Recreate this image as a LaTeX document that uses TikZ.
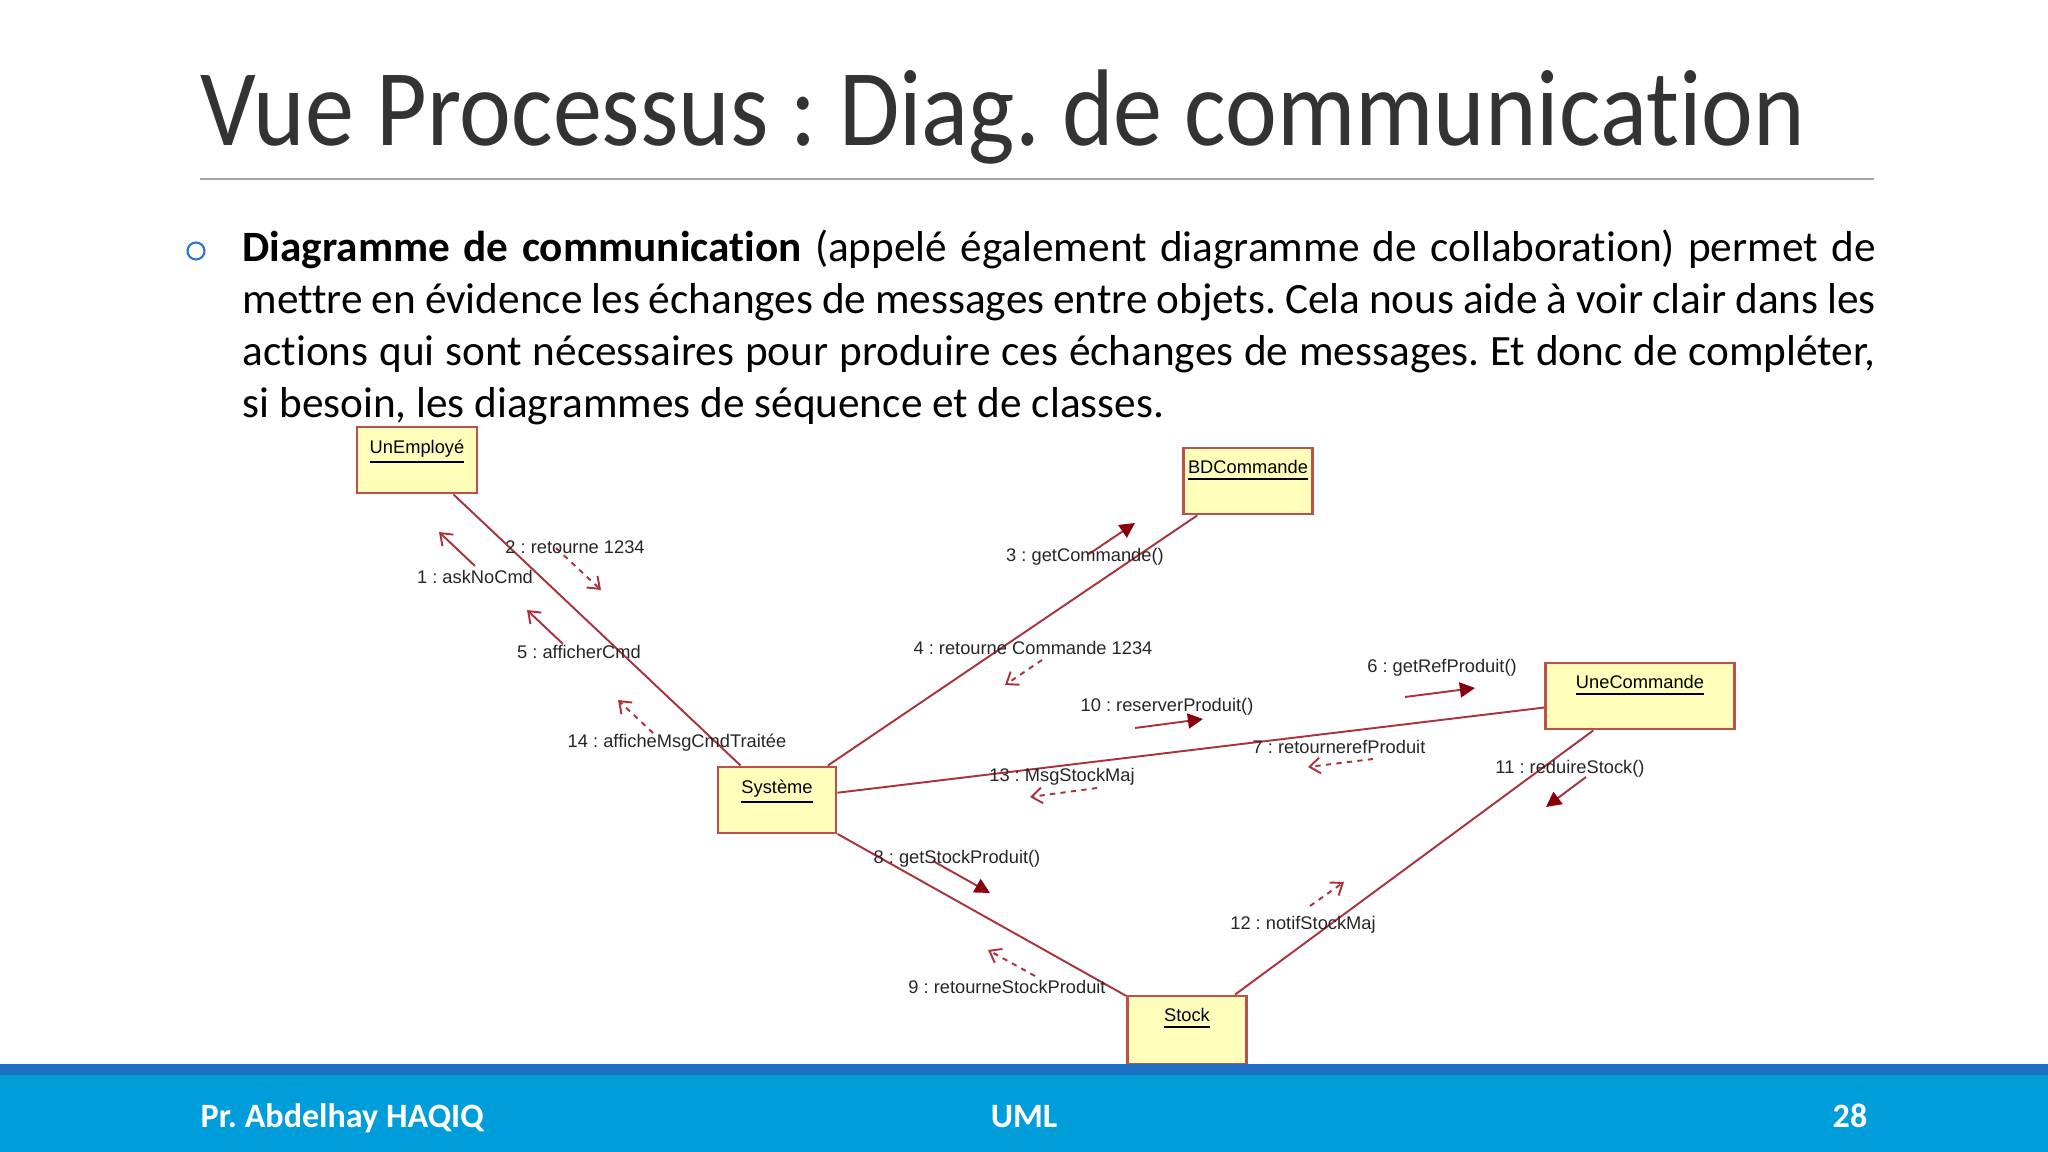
\documentclass[tikz,border=0pt]{standalone}
\usepackage{fontspec}
\setmainfont{Carlito}[Ligatures=NoCommon]
\newfontfamily\titlefont{Carlito}[Ligatures=NoCommon, FakeStretch=0.9]
\newfontfamily\umlfont{Liberation Sans}
\usetikzlibrary{arrows.meta}
\definecolor{linkred}{RGB}{170,50,60}
\definecolor{headred}{RGB}{135,0,10}
\definecolor{boxfill}{RGB}{255,255,187}
\definecolor{boxline}{RGB}{190,80,75}
\definecolor{bulletblue}{RGB}{40,120,200}
\definecolor{bardark}{RGB}{31,111,197}
\definecolor{barlight}{RGB}{0,157,219}
\definecolor{rulegrey}{RGB}{166,166,166}
\frenchspacing

\begin{document}
\begin{tikzpicture}[
    x=0.01cm, y=-0.01cm,
    objbox/.style={rectangle, draw=boxline, fill=boxfill, line width=0.8pt, minimum height=0.66cm},
    objname/.style={anchor=north, yshift=-1.8pt, inner sep=2pt, font=\umlfont\fontsize{5.2}{6}\selectfont},
    link/.style={draw=linkred, line width=0.55pt},
    msglabel/.style={inner sep=0pt, font=\umlfont\fontsize{5.2}{6}\selectfont, text=black!85},
    call/.style={linkred, line width=0.55pt, -{Triangle[length=4.3pt,width=4.3pt,color=headred]}},
    send/.style={linkred, line width=0.55pt, -{Straight Barb[length=3pt,width=4.5pt]}},
    reply/.style={send, dash pattern=on 1.5pt off 1.5pt},
    footer/.style={inner sep=0pt, text=white, font=\bfseries\fontsize{9.7}{11}\selectfont}
]
\useasboundingbox (0,0) rectangle (2048,1152);

% Titre
\node[anchor=base west, inner sep=0pt, font=\titlefont\fontsize{31}{36}\selectfont, text=black!80] at (200,146) (titre) {Vue Processus : Diag. de communication};
\draw[rulegrey, line width=0.6pt] (200,179) -- (1874,179);

% Texte
\draw[bulletblue, line width=0.6pt] (196,251) circle (8.5);
\node[anchor=base west, inner sep=0pt, font=\fontsize{12.3}{14.7}\selectfont] at (242,262) (texte) {\parbox[t]{16.32cm}{%
\makebox[16.32cm][s]{\textbf{Diagramme de communication} (appelé également diagramme de collaboration) permet de}\\
\makebox[16.32cm][s]{mettre en évidence les échanges de messages entre objets. Cela nous aide à voir clair dans les}\\
\makebox[16.32cm][s]{actions qui sont nécessaires pour produire ces échanges de messages. Et donc de compléter,}\\
si besoin, les diagrammes de séquence et de classes.}};

% Objets
\node[objbox, minimum width=1.20cm, label={[objname]north:\underline{UnEmployé}}] at (417,460) (emp) {};
\node[objbox, minimum width=1.29cm, label={[objname]north:\underline{BDCommande}}] at (1248,481) (bdc) {};
\node[objbox, minimum width=1.89cm, label={[objname]north:\underline{UneCommande}}] at (1640,696) (unec) {};
\node[objbox, minimum width=1.18cm, label={[objname]north:\underline{Système}}] at (777,800) (sys) {};
\node[objbox, minimum width=1.19cm, minimum height=0.68cm, label={[objname]north:\underline{Stock}}] at (1187,1030) (stock) {};

% Liens
\draw[link] (emp) -- (sys);
\draw[link] (sys) -- (bdc);
\draw[link] (sys) -- (unec);
\draw[link] (sys) -- (stock);
\draw[link] (stock) -- (unec);

% Messages UnEmploye - Systeme
\coordinate (m1a) at (475,566); \coordinate (m1b) at (439,532);
\coordinate (m2a) at (556,548); \coordinate (m2b) at (601,590);
\coordinate (m5a) at (563,644); \coordinate (m5b) at (527,610);
\coordinate (m14a) at (653,733); \coordinate (m14b) at (618,700);
\draw[send] (m1a) -- (m1b);
\draw[reply] (m2a) -- (m2b);
\draw[send] (m5a) -- (m5b);
\draw[reply] (m14a) -- (m14b);
\node[msglabel] at (475,577) (l1) {1 : askNoCmd};
\node[msglabel] at (575,547) (l2) {2 : retourne 1234};
\node[msglabel] at (579,652) (l5) {5 : afficherCmd};
\node[msglabel] at (677,743) (l14) {14 : afficheMsgCmdTraitée};

% Messages Systeme - BDCommande
\coordinate (m3a) at (1089,554); \coordinate (m3b) at (1135,523);
\coordinate (m4a) at (1042,660); \coordinate (m4b) at (1005,685);
\draw[call] (m3a) -- (m3b);
\draw[reply] (m4a) -- (m4b);
\node[msglabel] at (1085,557) (l3) {3 : getCommande()};
\node[msglabel] at (1033,648) (l4) {4 : retourne Commande 1234};

% Messages Systeme - UneCommande
\coordinate (m6a) at (1405,697); \coordinate (m6b) at (1475,688);
\coordinate (m7a) at (1373,759); \coordinate (m7b) at (1308,767);
\coordinate (m10a) at (1135,728); \coordinate (m10b) at (1203,719);
\coordinate (m13a) at (1097,788); \coordinate (m13b) at (1030,797);
\draw[call] (m6a) -- (m6b);
\draw[reply] (m7a) -- (m7b);
\draw[call] (m10a) -- (m10b);
\draw[reply] (m13a) -- (m13b);
\node[msglabel] at (1442,668) (l6) {6 : getRefProduit()};
\node[msglabel] at (1339,747) (l7) {7 : retournerefProduit};
\node[msglabel] at (1167,707) (l10) {10 : reserverProduit()};
\node[msglabel] at (1062,777) (l13) {13 : MsgStockMaj};

% Messages Systeme - Stock
\coordinate (m8a) at (933,861); \coordinate (m8b) at (990,893);
\coordinate (m9a) at (1035,976); \coordinate (m9b) at (988,950);
\draw[call] (m8a) -- (m8b);
\draw[reply] (m9a) -- (m9b);
\node[msglabel] at (957,859) (l8) {8 : getStockProduit()};
\node[msglabel] at (1007,987) (l9) {9 : retourneStockProduit};

% Messages Stock - UneCommande
\coordinate (m11a) at (1586,777); \coordinate (m11b) at (1546,807);
\coordinate (m12a) at (1310,906); \coordinate (m12b) at (1344,882);
\draw[call] (m11a) -- (m11b);
\draw[reply] (m12a) -- (m12b);
\node[msglabel] at (1570,769) (l11) {11 : reduireStock()};
\node[msglabel] at (1303,925) (l12) {12 : notifStockMaj};

% Pied de page
\fill[bardark] (0,1064) rectangle (2048,1075);
\fill[barlight] (0,1075) rectangle (2048,1152);
\node[footer, anchor=base west] at (200,1127) (auteur) {Pr. Abdelhay HAQIQ};
\node[footer, anchor=base] at (1024,1127) (cours) {UML};
\node[footer, anchor=base east] at (1868,1127) (page) {28};
\end{tikzpicture}
\end{document}
